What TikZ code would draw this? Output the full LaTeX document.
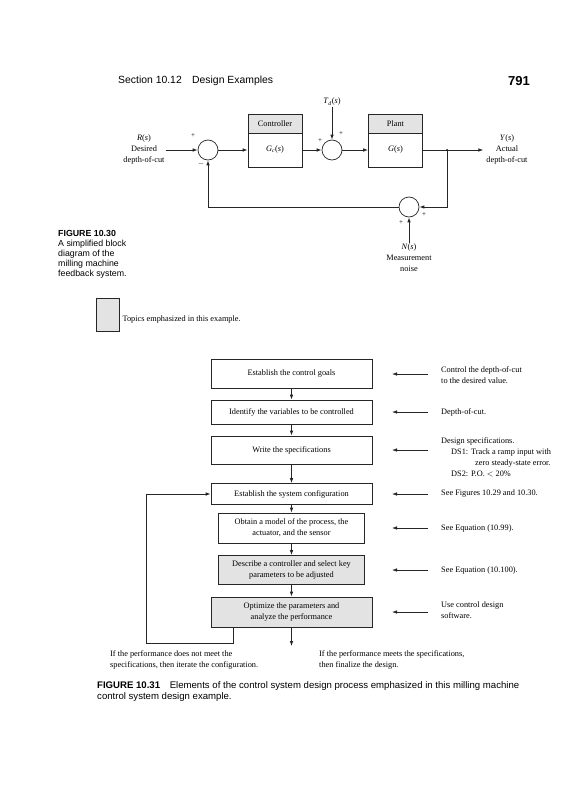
\documentclass[tikz,border=0pt]{standalone}
\usepackage{fontspec}
\setmainfont{Liberation Serif}
\setsansfont{Liberation Sans}
\usetikzlibrary{arrows.meta,positioning,calc}

\begin{document}
\begin{tikzpicture}[x=1pt,y=-1pt,
                font=\fontsize{8.3}{11}\selectfont,
                sumnode/.style={circle, draw=black!85, line width=0.7pt, minimum size=20pt, inner sep=0pt},
                headbox/.style={rectangle, draw=black!85, line width=0.7pt, fill=gray!22, minimum width=54pt, minimum height=19pt, inner sep=0pt},
                bodybox/.style={rectangle, draw=black!85, line width=0.7pt, minimum width=54pt, minimum height=34pt, inner sep=0pt},
                flowbox/.style={rectangle, draw=black!85, line width=0.7pt, minimum width=161pt, align=center, inner sep=2pt},
                narrowbox/.style={flowbox, minimum width=146pt},
                notebox/.style={anchor=west, align=left, inner sep=0pt},
                sign/.style={font=\fontsize{7}{7}\selectfont, inner sep=0pt},
                arr/.style={-{Latex[length=5pt,width=3.6pt]}, line width=0.8pt, black!85},
                capt/.style={font=\sffamily\fontsize{8.8}{10}\selectfont, align=left, inner sep=0pt},
            ]
            \useasboundingbox (0,0) rectangle (567,800);
            % page header
            \node[anchor=west, inner sep=0pt, font=\sffamily\fontsize{10.4}{12}\selectfont] (sec) at (118,81) {Section 10.12\quad Design Examples};
            \node[anchor=east, inner sep=0pt, font=\sffamily\bfseries\fontsize{13}{13}\selectfont] (pg) at (530,81) {791};

            % block diagram
            \node[sumnode] (s1) at (208,150) {};
            \node[sumnode] (s2) at (332,150) {};
            \node[sumnode] (s3) at (409,207) {};
            \node[headbox] (ctrlh) at (275,123.5) {Controller};
            \node[bodybox] (ctrlb) at (275,150) {\textit{G}\textsubscript{\textit{c}}(\textit{s})};
            \node[headbox] (planth) at (395.5,123.5) {Plant};
            \node[bodybox] (plantb) at (395.5,150) {\textit{G}(\textit{s})};
            \node[align=center, inner sep=1pt] (rin) at (144,150) {\textit{R}(\textit{s})\\Desired\\depth-of-cut};
            \node[align=center, inner sep=1pt] (yout) at (507,150) {\textit{Y}(\textit{s})\\Actual\\depth-of-cut};
            \node[inner sep=1pt] (td) at (332,102) {\textit{T}\textsubscript{\textit{d}}(\textit{s})};
            \node[align=center, inner sep=1pt, anchor=north] (nin) at (409,243) {\textit{N}(\textit{s})\\Measurement\\noise};
            \coordinate (br) at (447,150);

            \node[sign] at (193,136) {+};
            \node[sign] at (201,164) {$-$};
            \node[sign] at (320,141) {+};
            \node[sign] at (341,134) {+};
            \node[sign] at (424,215) {+};
            \node[sign] at (401,223) {+};

            \draw[arr] (rin.east) -- (s1.west);
            \draw[arr] (s1.east) -- (ctrlb.west);
            \draw[arr] (ctrlb.east) -- (s2.west);
            \draw[arr] (td.south) -- (s2.north);
            \draw[arr] (s2.east) -- (plantb.west);
            \draw[arr] (plantb.east) -- ([xshift=-2pt]yout.west);
            \fill (br) circle (1pt);
            \draw[arr] (br) |- (s3.east);
            \draw[arr] (s3.west) -| (s1.south);
            \draw[arr] (nin.north) -- (s3.south);

            \node[capt, anchor=north west] (cap1) at (58,230) {\textbf{FIGURE 10.30}\\A simplified block\\diagram of the\\milling machine\\feedback system.};

            % design process
            \node[rectangle, draw=black!85, line width=0.7pt, fill=gray!22, minimum width=23pt, minimum height=33pt] (leg) at (107.5,314.5) {};
            \node[anchor=west, inner sep=3pt] (legt) at ([yshift=-5pt]leg.east) {Topics emphasized in this example.};

            \node[flowbox, minimum height=29pt] (b1) at (291.5,374) {Establish the control goals};
            \node[flowbox, minimum height=24pt] (b2) at (291.5,412) {Identify the variables to be controlled};
            \node[flowbox, minimum height=28pt] (b3) at (291.5,450) {Write the specifications};
            \node[flowbox, minimum height=21pt] (b4) at (291.5,494) {Establish the system configuration};
            \node[narrowbox, minimum height=30pt] (b5) at (291.5,528) {Obtain a model of the process, the\\actuator, and the sensor};
            \node[narrowbox, minimum height=29pt, fill=gray!22] (b6) at (291.5,570) {Describe a controller and select key\\parameters to be adjusted};
            \node[flowbox, minimum height=30pt, fill=gray!22] (b7) at (291.5,612) {Optimize the parameters and\\analyze the performance};

            \foreach \a/\b in {b1/b2,b2/b3,b3/b4,b4/b5,b5/b6,b6/b7}
                \draw[arr] (\a.south) -- (\b.north);

            \node[notebox] (n1) at (441,375.5) {Control the depth-of-cut\\to the desired value.};
            \node[notebox] (n2) at (441,412) {Depth-of-cut.};
            \node[notebox] (n3) at (441,457) {Design specifications.\\
                \hspace*{10pt}DS1: Track a ramp input with\\
                \hspace*{34pt}zero steady-state error.\\
                \hspace*{10pt}DS2: P.O. $<$ 20\%};
            \node[notebox] (n4) at (441,494) {See Figures 10.29 and 10.30.};
            \node[notebox] (n5) at (441,528) {See Equation (10.99).};
            \node[notebox] (n6) at (441,570) {See Equation (10.100).};
            \node[notebox] (n7) at (441,610.5) {Use control design\\software.};

            \foreach \n/\b in {n1/b1,n2/b2,n3/b3,n4/b4,n5/b5,n6/b6,n7/b7}
                \draw[arr] ([xshift=-13pt]\n.west |- \b.east) -- ([xshift=-49pt]\n.west |- \b.east);

            \coordinate (lp) at (146,643);
            \coordinate (fin) at (291.5,646);
            \draw[arr] ([xshift=-58pt]b7.south) |- (lp) |- (b4.west);
            \draw[arr] (b7.south) -- (fin);

            \node[anchor=north west, align=left, inner sep=0pt] (nok) at (110,650) {If the performance does not meet the\\specifications, then iterate the configuration.};
            \node[anchor=north west, align=left, inner sep=0pt] (ok) at (319,650) {If the performance meets the specifications,\\then finalize the design.};

            \node[capt, anchor=north west, font=\sffamily\fontsize{9.6}{11}\selectfont] (cap2) at (97,681) {\textbf{FIGURE 10.31}\quad Elements of the control system design process emphasized in this milling machine\\control system design example.};
        \end{tikzpicture}
\end{document}
